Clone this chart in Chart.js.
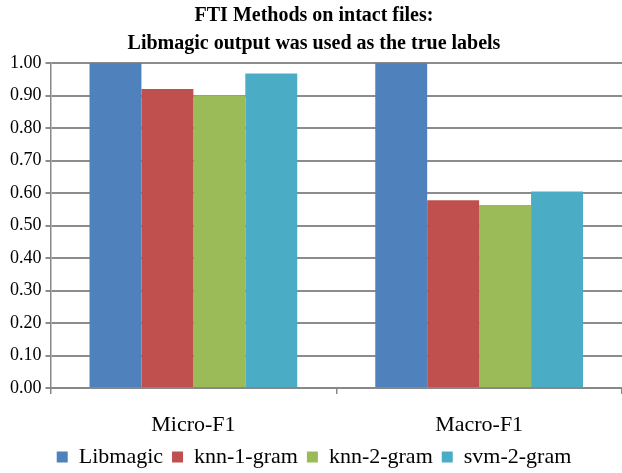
<!DOCTYPE html>
<html>
<head>
<meta charset="utf-8">
<script src="https://cdn.jsdelivr.net/npm/chart.js@4/dist/chart.umd.min.js"></script>
<style>
  html, body { margin: 0; padding: 0; background: #fff; }
  #wrap { width: 622px; height: 473px; }
</style>
</head>
<body>
<div id="wrap"><canvas id="out"></canvas></div>
<script>
const categories = ["Micro-F1", "Macro-F1"];
const seriesNames = ["Libmagic", "knn-1-gram", "knn-2-gram", "svm-2-gram"];
const libmagic = [1.00, 1.00];
const knn1gram = [0.92, 0.578];
const knn2gram = [0.90, 0.563];
const svm2gram = [0.968, 0.605];
const colors = ["#4F81BD", "#C0504D", "#9BBB59", "#4BACC6"];

const serif = "'Liberation Serif', 'Times New Roman', serif";
Chart.defaults.font.family = serif;
Chart.defaults.color = "#000";

const canvasCtx = document.getElementById("out").getContext("2d");
const values = [libmagic, knn1gram, knn2gram, svm2gram];

// legend sits tight under the axis labels, like the original
const tightLegend = {
  id: "tightLegend",
  beforeLayout(chart) {
    const lg = chart.legend;
    if (lg && !lg._tight) {
      const fit = lg.fit;
      lg.fit = function() { fit.call(this); this.height = 36; };
      lg._tight = true;
    }
  }
};

const chartConfig = {
  type: "bar",
  data: {
    labels: categories,
    datasets: seriesNames.map((name, i) => ({
      label: name,
      data: values[i],
      backgroundColor: colors[i],
      borderWidth: 0,
      barPercentage: 1,
      categoryPercentage: 0.727
    }))
  },
  options: {
    responsive: true,
    maintainAspectRatio: false,
    animation: false,
    layout: { padding: { left: 6, right: 0, top: 0, bottom: 0 } },
    plugins: {
      title: {
        display: true,
        text: ["FTI Methods on intact files:", "Libmagic output was used as the true labels"],
        font: { size: 20, weight: "bold", family: serif, lineHeight: 1.4 },
        color: "#000",
        padding: { top: 2, bottom: 5 }
      },
      legend: {
        position: "bottom",
        labels: {
          boxWidth: 11,
          boxHeight: 11,
          padding: 9,
          font: { size: 22, family: serif },
          color: "#000"
        }
      },
      tooltip: { enabled: false }
    },
    scales: {
      x: {
        offset: true,
        afterFit: scale => { scale.height = 49; },
        grid: {
          offset: true,
          drawOnChartArea: false,
          drawTicks: true,
          tickLength: 6,
          color: "#888",
          lineWidth: 1.5
        },
        border: { color: "#888", width: 2 },
        ticks: { font: { size: 22, family: serif }, color: "#000", padding: 18 }
      },
      y: {
        min: 0,
        max: 1,
        ticks: {
          stepSize: 0.1,
          callback: v => v.toFixed(2),
          font: { size: 18, family: serif },
          color: "#000",
          padding: 4
        },
        grid: { color: "#8c8c8c", lineWidth: 2, tickLength: 5 },
        border: { color: "#888", width: 1.5 }
      }
    }
  },
  plugins: [tightLegend]
};

window.chart = new Chart(canvasCtx, chartConfig);
</script>
</body>
</html>
